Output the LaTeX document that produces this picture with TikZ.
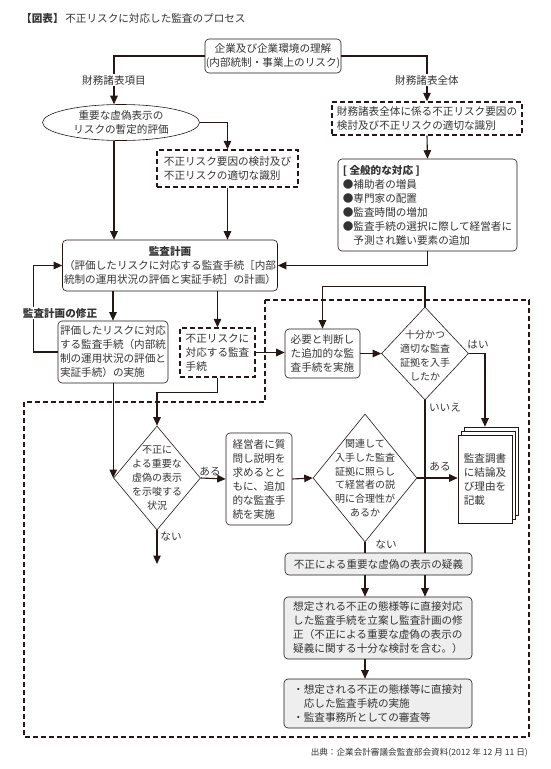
\documentclass[tikz,border=0pt]{standalone}
\usepackage{fontspec}
\setmainfont{Noto Sans CJK JP}
\usetikzlibrary{shapes.geometric,arrows.meta,calc}
\definecolor{ln}{HTML}{231815}
\definecolor{tx}{HTML}{333333}
\definecolor{gr}{HTML}{EEEEEE}
\newcommand\fs{\fontsize{10.6}{14}\selectfont}
\newcommand\fsd{\fontsize{10}{13.8}\selectfont}
\newcommand\fss{\fontsize{8.6}{11}\selectfont}
\tikzset{
  box/.style={draw=ln, line width=0.6pt, rounded corners=4pt, fill=white, inner sep=0pt, text=tx, font=\fs},
  gbox/.style={box, fill=gr},
  dbox/.style={draw=ln, line width=1.4pt, dash pattern=on 5pt off 3pt, fill=white, inner sep=0pt, text=tx, font=\fs},
  dia/.style={diamond, draw=ln, line width=0.6pt, inner sep=0pt, fill=white},
  dtext/.style={align=center, text=tx, font=\fsd, inner sep=0pt},
  lbl/.style={text=tx, font=\fs, inner sep=1pt},
  cl/.style={draw=ln, line width=1.1pt},
  arr/.style={cl, -{Triangle[width=7.5pt,length=8.5pt]}},
  region/.style={draw=ln, line width=1.4pt, dash pattern=on 5pt off 3pt},
}
\begin{document}
\begin{tikzpicture}[x=1pt, y=-1pt]
\useasboundingbox (0,0) rectangle (550,769);

% title
\node[anchor=west, text=tx, font=\fs, inner sep=0pt] (title) at (21,18) {{\bfseries 【図表】}\,不正リスクに対応した監査のプロセス};

% dashed region
\draw[region] (265,300) -- (529,300) -- (529,737) -- (24,737) -- (24,402) -- (265,402) -- cycle;

% top
\node[box, minimum width=136pt, minimum height=34pt, align=center] (top) at (273,56) {企業及び企業環境の理解\\(内部統制・事業上のリスク)};
\node[lbl] (L1) at (114,80) {財務諸表項目};
\node[lbl] (L2) at (427,80) {財務諸表全体};

% left column
\node[ellipse, draw=ln, line width=0.6pt, minimum width=157pt, minimum height=36pt, inner xsep=0pt, inner ysep=-2pt, align=center, text=tx, font=\fs] (ell) at (121,122.5) {重要な虚偽表示の\\リスクの暫定的評価};
\node[dbox, minimum width=141pt, minimum height=37pt, align=left] (D1) at (227.5,168.5) {不正リスク要因の検討及び\\不正リスクの適切な識別};

% right column
\node[dbox, minimum width=190pt, minimum height=33pt, align=left] (D2) at (427,118.5) {財務諸表全体に係る不正リスク要因の\\検討及び不正リスクの適切な識別};
\node[box, minimum width=179pt, minimum height=92pt, align=left] (Z) at (427.5,205) {{\bfseries [ 全般的な対応 ]}\\●補助者の増員\\●専門家の配置\\●監査時間の増加\\●監査手続の選択に際して経営者に\\\phantom{●}予測され難い要素の追加};

% plan
\node[box, minimum width=215pt, minimum height=51pt, align=center] (plan) at (170,265.5) {{\bfseries 監査計画}\\（評価したリスクに対応する監査手続［内部\\統制の運用状況の評価と実証手続］の計画）};

\node[box, minimum width=110pt, minimum height=62pt, align=left] (B) at (113,352) {評価したリスクに対応\\する監査手続（内部統\\制の運用状況の評価と\\実証手続）の実施};
\node[dbox, minimum width=75pt, minimum height=49pt, align=left] (D3) at (217.5,352.5) {不正リスクに\\対応する監査\\手続};
\node[box, minimum width=75pt, minimum height=49pt, align=left] (A) at (322.5,353.5) {必要と判断し\\た追加的な監\\査手続を実施};

\node[dia, minimum width=87pt, minimum height=93pt] (S) at (425,353.5) {};
\node[dtext] (St) at ([yshift=-2pt]S.center) {十分かつ\\適切な監査\\証拠を入手\\したか};

% lower
\node[dia, minimum width=87pt, minimum height=104pt] (P) at (157,478) {};
\node[dtext] (Pt) at (P.center) {不正に\\よる重要な\\虚偽の表示\\を示唆する\\状況};
\node[box, minimum width=66pt, minimum height=92pt, align=left] (C) at (259,479) {経営者に質\\問し説明を\\求めるとと\\もに、追加\\的な監査手\\続を実施};
\node[dia, minimum width=104pt, minimum height=128pt] (R) at (365,478) {};
\node[dtext] (Rt) at (R.center) {関連して\\入手した監査\\証拠に照らし\\て経営者の説\\明に合理性が\\あるか};

% document stack
\node[draw=ln, line width=0.6pt, fill=white, minimum width=54pt, minimum height=88pt] (doc3) at (491,471) {};
\node[draw=ln, line width=0.6pt, fill=white, minimum width=54pt, minimum height=88pt] (doc2) at (488,475) {};
\node[draw=ln, line width=0.6pt, fill=white, minimum width=54pt, minimum height=88pt, align=left, text=tx, font=\fs, inner sep=0pt] (doc) at (485,479) {監査調書\\に結論及\\び理由を\\記載};

% grey boxes
\node[gbox, minimum width=187pt, minimum height=22pt] (G) at (378.5,564) {不正による重要な虚偽の表示の疑義};
\node[gbox, minimum width=188pt, minimum height=62pt, align=left] (H) at (378,628) {想定される不正の態様等に直接対応\\した監査手続を立案し監査計画の修\\正（不正による重要な虚偽の表示の\\疑義に関する十分な検討を含む。）};
\node[gbox, minimum width=188pt, minimum height=49pt, align=left] (I) at (378,703.5) {・想定される不正の態様等に直接対\\\phantom{・}応した監査手続の実施\\・監査事務所としての審査等};

% connectors top
\draw[cl] (top.west) -| (L1.north);
\draw[cl] (top.east) -| (L2.north);
\draw[arr] (L1.south) -- (L1.south |- ell.north);
\draw[arr] (L2.south) -- (D2.north);
\draw[arr] (ell.east) -| (D1.north);
\draw[arr] (L1.south |- ell.south) -- (L1.south |- plan.north);
\draw[arr] (D1.south) -- (D1.south |- plan.north);
\draw[arr] (D2.south) -- (Z.north);
\draw[arr] (Z.south) |- (plan.east);

% plan down
\draw[arr] (B.north |- plan.south) -- (B.north);
\draw[arr] (D3.north |- plan.south) -- (D3.north);
\draw[arr] (B.west) -- ++(-24,0) |- (plan.west);
\node[lbl, fill=white, font=\fs\bfseries] (mod) at (60,313) {監査計画の修正};

\draw[arr] (D3.east) -- (D3.east -| A.west);
\draw[arr] (A.east) -- (S.west);
\draw[arr] (S.north) -- ++(0,-20) -| (A.north);
\draw[arr] (S.east) -| (doc.north |- doc3.north);
\node[lbl] (yes1) at (478,345) {はい};
\draw[cl] (S.south) -- (S.south |- G.north);
\draw[arr] (S.south |- G.south) -- (S.south |- H.north);
\node[lbl] (no1) at (445,408) {いいえ};

\draw[arr] (D3.south) -- ++(0,15) -| (P.north);
\draw[arr] (P.west |- B.south) -- (P.west);
\coordinate (Pend) at (157,564);
\draw[arr] (P.south) -- (Pend);
\node[lbl] (no2) at (171,537) {ない};
\draw[arr] (P.east) -- (C.west);
\node[lbl] (yes2) at (210,472) {ある};
\draw[arr] (C.east) -- (R.west);
\draw[arr] (R.east) -- (R.east -| doc.west);
\node[lbl] (yes3) at (440,467) {ある};
\draw[cl] (R.south) -- (R.south |- G.north);
\node[lbl] (no3) at (386,545) {ない};

\draw[arr] (R.south |- G.south) -- (R.south |- H.north);
\draw[arr] (R.south |- H.south) -- (R.south |- I.north);

% source
\node[anchor=east, text=tx, font=\fss, inner sep=0pt] (src) at (528,753) {出典：企業会計審議会監査部会資料(2012 年 12 月 11 日)};
\end{tikzpicture}
\end{document}
